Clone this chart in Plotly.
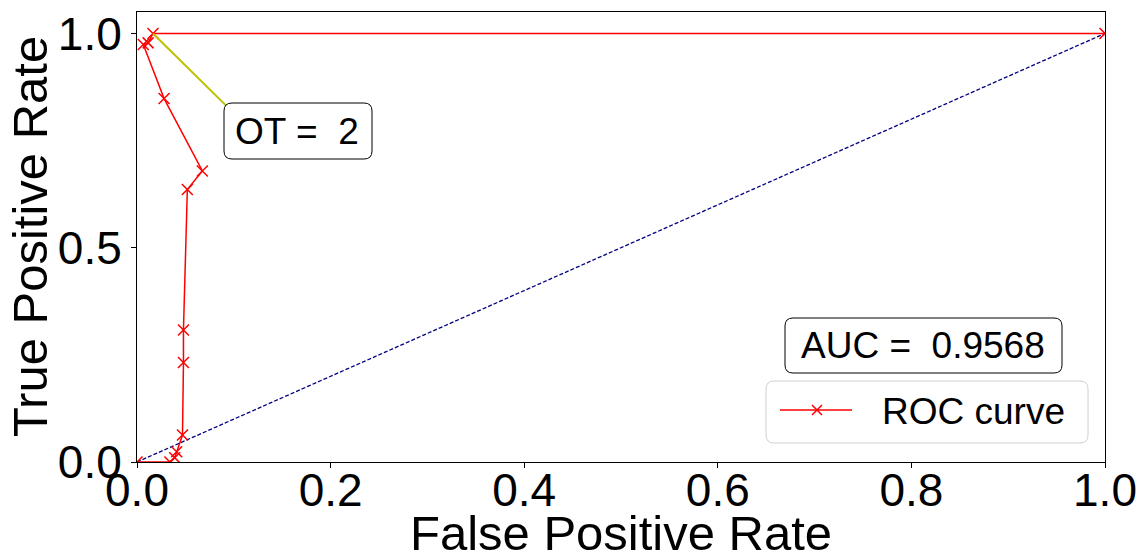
import plotly.graph_objects as go

# ROC operating points (in drawing order)
fpr = [0.0, 0.034, 0.039, 0.041, 0.047, 0.048, 0.048, 0.052, 0.0675,
       0.028, 0.0065, 0.0115, 0.0165, 1.0]
tpr = [0.0, 0.0, 0.010, 0.024, 0.063, 0.232, 0.308, 0.636, 0.679,
       0.848, 0.974, 0.978, 1.0, 1.0]
chance_x = [0.0, 1.0]
chance_y = [0.0, 1.0]
auc_value = 0.9568
ot_index = 12          # optimal threshold point on the curve
ot_label = 2
x_ticks = [0.0, 0.2, 0.4, 0.6, 0.8, 1.0]
y_ticks = [0.0, 0.5, 1.0]

W, H = 1140, 554
ML, MR, MT, MB = 137, 35, 12, 92
PW, PH = W - ML - MR, H - MT - MB
FONT = "Liberation Sans, Arial, sans-serif"


def px_x(p):
    return (p - ML) / PW


def px_y(p):
    return (H - MB - p) / PH


def rounded_box(left, top, right, bottom, r=8):
    x0, x1 = px_x(left), px_x(right)
    y0, y1 = px_y(top), px_y(bottom)
    rx, ry = r / PW, r / PH
    return (f"M {x0+rx},{y0} L {x1-rx},{y0} Q {x1},{y0} {x1},{y0-ry} "
            f"L {x1},{y1+ry} Q {x1},{y1} {x1-rx},{y1} L {x0+rx},{y1} "
            f"Q {x0},{y1} {x0},{y1+ry} L {x0},{y0-ry} Q {x0},{y0} {x0+rx},{y0} Z")


def label(x, y, text, size, xanchor="center", angle=0):
    return dict(xref="paper", yref="paper", x=x, y=y, text=text,
                showarrow=False, xanchor=xanchor, yanchor="middle",
                textangle=angle, font=dict(family=FONT, size=size, color="black"))


fig = go.Figure()
fig.add_trace(go.Scatter(
    x=chance_x, y=chance_y, mode="lines", showlegend=False,
    line=dict(color="#000080", width=1.3, dash="4px,2px"), hoverinfo="skip"))
fig.add_trace(go.Scatter(
    x=fpr, y=tpr, mode="lines+markers", name="ROC curve", showlegend=False,
    line=dict(color="red", width=1.5),
    marker=dict(symbol="x-thin", size=11, line=dict(color="red", width=1.5))))

shapes = []
annotations = []

# pointer from the optimal-threshold point to its label
ot_text_x, ot_text_y = px_x(235), px_y(97)
shapes.append(dict(type="line", xref="x", yref="y",
                   x0=fpr[ot_index], y0=tpr[ot_index], x1=ot_text_x, y1=ot_text_y,
                   line=dict(color="#bfbf00", width=2)))
shapes.append(dict(type="path", xref="paper", yref="paper",
                   path=rounded_box(224, 103, 372, 159),
                   line=dict(color="black", width=1), fillcolor="white"))
annotations.append(label(px_x(297), px_y(131), f"OT = \u00a0{ot_label}", 37))

# AUC box
shapes.append(dict(type="path", xref="paper", yref="paper",
                   path=rounded_box(785, 318, 1062, 373),
                   line=dict(color="black", width=1), fillcolor="white"))
annotations.append(label(px_x(923), px_y(345.5), f"AUC = \u00a0{auc_value:.4f}", 37))

# legend
shapes.append(dict(type="path", xref="paper", yref="paper",
                   path=rounded_box(766, 381, 1088, 443),
                   line=dict(color="#d0d0d0", width=1),
                   fillcolor="rgba(255,255,255,0.8)"))
shapes.append(dict(type="line", xref="paper", yref="paper",
                   x0=px_x(780), y0=px_y(410), x1=px_x(852), y1=px_y(410),
                   line=dict(color="red", width=1.5)))
mx, my, ms = 817, 410, 5
shapes.append(dict(type="path", xref="paper", yref="paper",
                   path=(f"M {px_x(mx-ms)},{px_y(my-ms)} L {px_x(mx+ms)},{px_y(my+ms)} "
                         f"M {px_x(mx-ms)},{px_y(my+ms)} L {px_x(mx+ms)},{px_y(my-ms)}"),
                   line=dict(color="red", width=1.5)))
annotations.append(label(px_x(880), px_y(411), "ROC curve", 37, xanchor="left"))

# axis titles
annotations.append(label(0.5, px_y(533), "False Positive Rate", 49))
annotations.append(label(px_x(30), 0.5, "True Positive Rate", 49, angle=-90))

axis_common = dict(showgrid=False, zeroline=False, showline=True, mirror=True,
                   linecolor="black", linewidth=1, ticks="outside", ticklen=5,
                   tickcolor="black", tickwidth=1,
                   tickfont=dict(family=FONT, size=46, color="black"))

fig.update_layout(
    width=W, height=H, margin=dict(l=ML, r=MR, t=MT, b=MB, autoexpand=False),
    paper_bgcolor="white", plot_bgcolor="white",
    xaxis=dict(range=[0, 1], tickvals=x_ticks, ticktext=[f"{v:.1f}" for v in x_ticks],
               ticklabelstandoff=-17, **axis_common),
    yaxis=dict(range=[0, 1.05], tickvals=y_ticks, ticktext=[f"{v:.1f}" for v in y_ticks],
               **axis_common),
    shapes=shapes, annotations=annotations, showlegend=False,
)

fig.write_html("out.html")
